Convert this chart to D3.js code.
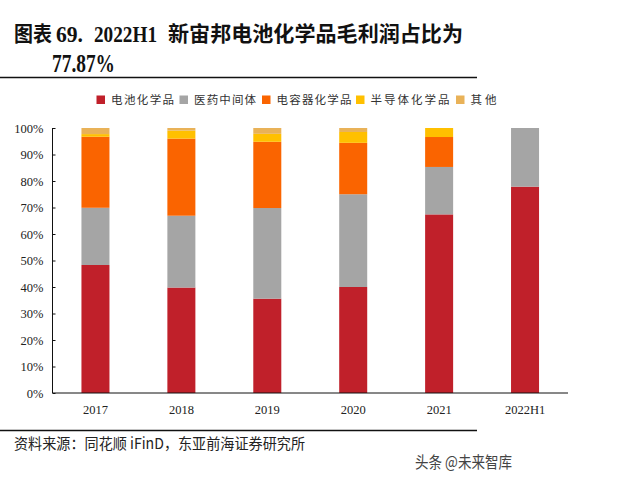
<!DOCTYPE html>
<html><head><meta charset="utf-8">
<script src="https://cdn.jsdelivr.net/npm/d3@7"></script>
<style>body{margin:0;background:#fff}svg{display:block}</style>
</head><body>
<script>
const categories = ["2017","2018","2019","2020","2021","2022H1"];
const seriesNames = ["电池化学品","医药中间体","电容器化学品","半导体化学品","其他"];
const battery   = [48.3, 39.8, 35.6, 40.0, 67.4, 77.87];
const pharma    = [21.6, 27.1, 34.2, 35.0, 17.9, 22.13];
const capacitor = [26.8, 29.1, 25.0, 19.4, 11.3, 0];
const semi      = [1.0, 3.0, 3.0, 4.1, 3.4, 0];
const other     = [2.3, 1.0, 2.2, 1.5, 0.0, 0];
const yTicks = [0,10,20,30,40,50,60,70,80,90,100];
const colors = ["#C0202A","#A5A5A5","#FA6400","#FFC000","#E9B258"];

const W=640,H=481;
const svg=d3.select("body").append("svg").attr("width",W).attr("height",H);
svg.append("rect").attr("width",W).attr("height",H).attr("fill","#fff");

const cjk="'Noto Sans CJK SC','Noto Sans',sans-serif";
const serif="'Liberation Serif','Times New Roman',serif";

// Title
const t=svg.append("g").attr("fill","#111").attr("font-weight","bold");
t.append("text").attr("x",14).attr("y",41).attr("font-family",cjk).attr("font-size",21).attr("textLength",38).attr("lengthAdjust","spacingAndGlyphs").text("图表");
t.append("text").attr("x",56).attr("y",41.5).attr("font-family",serif).attr("font-size",23).attr("textLength",27).attr("lengthAdjust","spacingAndGlyphs").text("69.");
t.append("text").attr("x",94).attr("y",41.5).attr("font-family",serif).attr("font-size",23).attr("textLength",63).attr("lengthAdjust","spacingAndGlyphs").text("2022H1");
t.append("text").attr("x",168).attr("y",41).attr("font-family",cjk).attr("font-size",21).attr("textLength",295).attr("lengthAdjust","spacingAndGlyphs").text("新宙邦电池化学品毛利润占比为");
t.append("text").attr("x",52).attr("y",72).attr("font-family",serif).attr("font-size",25).attr("textLength",63).attr("lengthAdjust","spacingAndGlyphs").text("77.87%");
svg.append("line").attr("x1",0).attr("x2",477).attr("y1",77.5).attr("y2",77.5).attr("stroke","#111").attr("stroke-width",1.6);
svg.append("line").attr("x1",0).attr("x2",477).attr("y1",430.5).attr("y2",430.5).attr("stroke","#111").attr("stroke-width",1.6);

// Legend
const legX=[96.5,179.5,262,356,456];
const legW=[63,62,75,79,26];
const lg=svg.append("g");
seriesNames.forEach((n,i)=>{
  lg.append("rect").attr("x",legX[i]).attr("y",95.5).attr("width",8.5).attr("height",8.5).attr("fill",colors[i]);
  lg.append("text").attr("x",legX[i]+14.5).attr("y",104).attr("font-family",cjk).attr("font-size",11.5)
    .attr("fill","#333").attr("textLength",legW[i]).attr("lengthAdjust","spacing").text(n);
});

// Chart
const m={l:52.5,r:568,t:128,b:393};
const x=d3.scaleBand().domain(categories).range([m.l,m.r]).paddingInner(0.674).paddingOuter(0.337);
const y=d3.scaleLinear().domain([0,100]).range([m.b,m.t]);
const table=categories.map((c,i)=>({cat:c,s0:battery[i],s1:pharma[i],s2:capacitor[i],s3:semi[i],s4:other[i]}));
const stack=d3.stack().keys(["s0","s1","s2","s3","s4"])(table);
svg.append("g").selectAll("g").data(stack).join("g").attr("fill",(d,i)=>colors[i])
  .selectAll("rect").data(d=>d).join("rect")
  .attr("x",d=>x(d.data.cat)).attr("width",x.bandwidth())
  .attr("y",d=>y(d[1])).attr("height",d=>Math.max(0,y(d[0])-y(d[1])));

const ya=svg.append("g").attr("transform",`translate(${m.l},0)`)
  .call(d3.axisLeft(y).tickValues(yTicks).tickSize(-3).tickPadding(9).tickFormat(d=>d+"%"));
ya.select(".domain").attr("stroke","#111").attr("d",`M0,${m.t}V${m.b}`);
ya.selectAll(".tick line").attr("stroke","#111");
ya.selectAll("text").attr("font-family",serif).attr("font-size",12.5).attr("fill","#222");

const xa=svg.append("g").attr("transform",`translate(0,${m.b})`)
  .call(d3.axisBottom(x).tickSize(0).tickPadding(12));
xa.select(".domain").attr("stroke","#111").attr("d",`M${m.l},0H${m.r}`);
xa.selectAll("text").attr("font-family",serif).attr("font-size",12.5).attr("fill","#222");

// Source
svg.append("text").attr("x",14).attr("y",449).attr("font-family",cjk).attr("font-size",15).attr("fill","#222")
  .attr("textLength",291).attr("lengthAdjust","spacingAndGlyphs").text("资料来源：同花顺 iFinD，东亚前海证券研究所");
svg.append("text").attr("x",415).attr("y",468).attr("font-family",cjk).attr("font-size",16).attr("fill","#444")
  .attr("textLength",97).attr("lengthAdjust","spacingAndGlyphs").text("头条 @未来智库");
</script>
</body></html>
